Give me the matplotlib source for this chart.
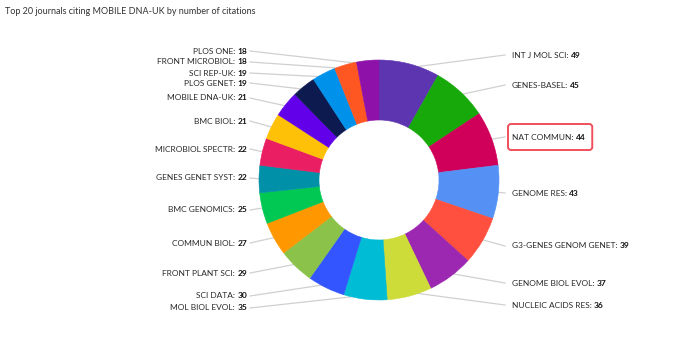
import numpy as np
import matplotlib.pyplot as plt
from matplotlib.patches import FancyBboxPatch

plt.rcParams['font.family'] = ['Lato', 'DejaVu Sans']

journals = ['INT J MOL SCI', 'GENES-BASEL', 'NAT COMMUN', 'GENOME RES', 'G3-GENES GENOM GENET',
            'GENOME BIOL EVOL', 'NUCLEIC ACIDS RES', 'MOL BIOL EVOL', 'SCI DATA', 'FRONT PLANT SCI',
            'COMMUN BIOL', 'BMC GENOMICS', 'GENES GENET SYST', 'MICROBIOL SPECTR', 'BMC BIOL',
            'MOBILE DNA-UK', 'PLOS GENET', 'SCI REP-UK', 'FRONT MICROBIOL', 'PLOS ONE']
citations = [49, 45, 44, 43, 39, 37, 36, 35, 30, 29, 27, 25, 22, 22, 21, 21, 19, 19, 18, 18]
colors = ['#5e35b1', '#17a90a', '#d0005a', '#5591f5', '#ff4f3e', '#9c27b0', '#cddc39', '#00bcd4',
          '#3355ff', '#8bc34a', '#ff9800', '#00c853', '#0090a8', '#e91e63', '#ffc107', '#6200ea',
          '#0d1a4f', '#0091ea', '#ff5722', '#8e12aa']

# label rows (pixel y from the top), first 7 on the right, rest on the left
label_y = [55, 85, 137, 193, 246, 283, 305, 308, 296, 273, 243, 210, 178, 149, 121, 98, 83, 73, 62, 51]
n_right = 7
highlight = 'NAT COMMUN'

W, H = 693, 354
cx, cy, R = 379, H - 180, 120
fs = 6.0
gap = 2

fig = plt.figure(figsize=(W / 100, H / 100), dpi=100)
ax = fig.add_axes([0, 0, 1, 1])

wedges, _ = ax.pie(citations, colors=colors, startangle=90, counterclock=False,
                   radius=R, center=(cx, cy), wedgeprops=dict(width=R * 0.5, linewidth=0.4))
for w, c in zip(wedges, colors):
    w.set_edgecolor(c)
    w.set_zorder(3)
ax.set_xlim(0, W)
ax.set_ylim(0, H)
ax.set_aspect('equal')
ax.axis('off')

total = sum(citations)
cum = np.cumsum([0] + citations[:-1])
for i, (name, v) in enumerate(zip(journals, citations)):
    ang = np.deg2rad(90 - 360 * (cum[i] + v / 2) / total)
    px, py = cx + (R - 4) * np.cos(ang), cy + (R - 4) * np.sin(ang)
    ly = H - label_y[i]
    if i < n_right:
        ax.plot([px, 505], [py, ly], color='#d0d0d0', lw=0.9, zorder=1)
        t = ax.text(512, ly, name + ':', ha='left', va='center', fontsize=fs, color='#2a2a2a')
        num = ax.annotate(str(v), xy=(1, 0), xycoords=t, xytext=(gap, 0), textcoords='offset pixels',
                          ha='left', va='bottom', fontsize=fs, fontweight='bold', color='#111111')
        if name == highlight:
            r = fig.canvas.get_renderer()
            x1 = ax.transData.inverted().transform(num.get_window_extent(r))[1][0]
            ax.add_patch(FancyBboxPatch((508, ly - 13), x1 + 7 - 508, 26,
                                        boxstyle='round,pad=0,rounding_size=3',
                                        fc='none', ec='#f0505c', lw=1.4, zorder=4))
    else:
        ax.plot([250, px], [ly, py], color='#d0d0d0', lw=0.9, zorder=1)
        t = ax.text(247, ly, str(v), ha='right', va='center', fontsize=fs,
                    fontweight='bold', color='#111111')
        ax.annotate(name + ':', xy=(0, 0), xycoords=t, xytext=(-gap, 0), textcoords='offset pixels',
                    ha='right', va='bottom', fontsize=fs, color='#2a2a2a')

ax.text(5, H - 12, 'Top 20 journals citing MOBILE DNA-UK by number of citations',
        ha='left', va='center', fontsize=6.5, color='#333333')

fig.savefig('out.png', dpi=100)
